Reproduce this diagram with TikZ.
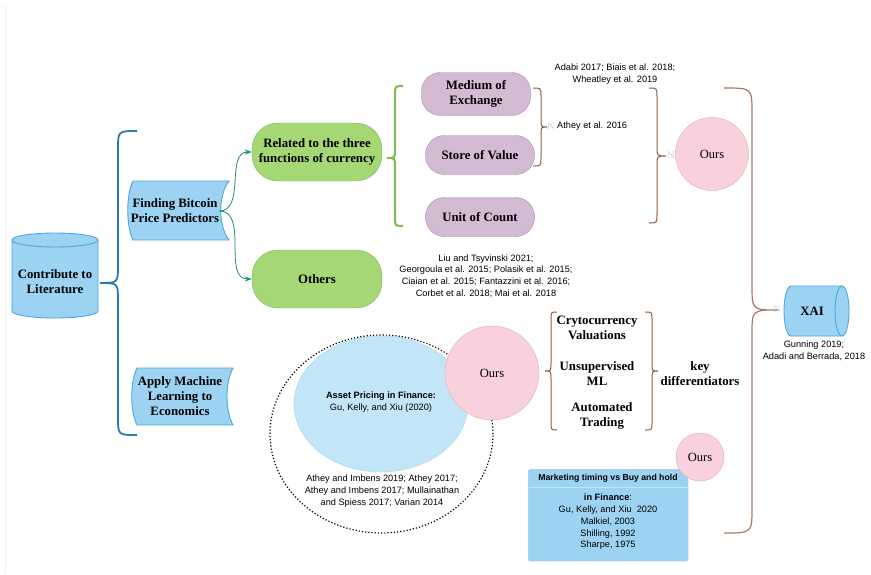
\documentclass[tikz,border=0pt]{standalone}
\usepackage{fontspec}
\setmainfont{Liberation Serif}
\setsansfont{Liberation Sans}
\usetikzlibrary{shapes.geometric,arrows.meta}
\definecolor{cylblue}{HTML}{9DD3F2}
\definecolor{cyledge}{HTML}{4DA6DD}
\definecolor{braceblue}{HTML}{2A7AB4}
\definecolor{grfill}{HTML}{A5D875}
\definecolor{gredge}{HTML}{82B366}
\definecolor{grbrace}{HTML}{82BE55}
\definecolor{pufill}{HTML}{D4BBD4}
\definecolor{puedge}{HTML}{A88AB0}
\definecolor{pkfill}{HTML}{F8D1DD}
\definecolor{pkedge}{HTML}{E5A8BC}
\definecolor{lbfill}{HTML}{C2E5F7}
\definecolor{lbedge}{HTML}{A5D5F2}
\definecolor{bracebrown}{HTML}{8E5B3E}
\definecolor{flowteal}{HTML}{1E8C7E}
% curly brace: style, x end, x mid, x tip, y top, y tip, y bottom, corner
\newcommand{\drawbrace}[8]{%
  \draw[#1] (#2,#5) .. controls (#3,#5) .. (#3,#5+#8) -- (#3,#6-#8)
    .. controls (#3,#6) .. (#4,#6) .. controls (#3,#6) .. (#3,#6+#8)
    -- (#3,#7-#8) .. controls (#3,#7) .. (#2,#7);}

\begin{document}
\begin{tikzpicture}[x=1pt, y=-1pt,
	lbl/.style={font=\bfseries\fontsize{12.8}{15}\selectfont, align=center, inner sep=0pt},
	refs/.style={font=\sffamily\fontsize{9.2}{11.7}\selectfont, align=center, inner sep=0pt},
	func/.style={draw=gredge, fill=grfill, rounded corners=26pt, minimum width=130pt, minimum height=58pt, lbl},
	money/.style={draw=puedge, fill=pufill, rounded corners=19pt, minimum width=109pt, lbl},
	ours/.style={circle, draw=pkedge, fill=pkfill, inner sep=0pt, font=\fontsize{12.5}{15}\selectfont},
	cyl/.style={draw=cyledge, fill=cylblue, line width=0.9pt},
	flow/.style={->, >={Stealth[length=7pt, width=5pt]}, flowteal, line width=0.8pt},
	faint/.style={text=gray!35, font=\fontsize{10}{10}\selectfont, inner sep=0pt}]
	\useasboundingbox (0,0) rectangle (871,574);
	\fill[white] (0,0) rectangle (871,574);
	\draw[gray!12, line width=1pt] (5,5) -- (5,574);
	
	% blue shapes
	\filldraw[cyl] (12,240) -- (12,311) arc[start angle=180, end angle=0, x radius=43, y radius=7] -- (98,240) -- cycle;
	\filldraw[cyl] (55,240) ellipse [x radius=43, y radius=7];
	\filldraw[cyl] (133,181) -- (229,181) .. controls (218,195) and (218,226) .. (229,240) -- (133,240) .. controls (126,226) and (126,195) .. (133,181) -- cycle;
	\filldraw[cyl] (137,368) -- (233,368) .. controls (225,382) and (225,411) .. (233,425) -- (137,425) .. controls (130,411) and (130,382) .. (137,368) -- cycle;
	\filldraw[cyl] (842,286) -- (791,286) arc[start angle=270, end angle=90, x radius=7, y radius=25] -- (842,336) -- cycle;
	\filldraw[cyl] (842,311) ellipse [x radius=7, y radius=25];
	
	\node[lbl] (lit) at (55,282) {Contribute to\\Literature};
	\node[lbl, minimum width=88pt] (find) at (175,211) {Finding Bitcoin\\Price Predictors};
	\node[lbl] (apply) at (180,396) {Apply Machine\\Learning to\\Economics};
	\node[lbl] (xai) at (812,311) {XAI};
	
	\node[func] (rel) at (317,152) {Related to the three\\functions of currency};
	\node[func] (others) at (317,279) {Others};
	\draw[flow] (find.east) to[out=0, in=180] (rel.west);
	\draw[flow] (find.east) to[out=0, in=180] (others.west);
	
	\node[money, minimum height=43pt] (medium) at (476,94) {Medium of\\Exchange};
	\node[money, minimum height=39pt] (store) at (480,155) {Store of Value};
	\node[money, minimum height=39pt] (unit) at (480,217) {Unit of Count};
	
	\node[ours, minimum size=73pt] (ours1) at (712,154) {Ours};
	
	% asset pricing part
	\node[ellipse, draw=lbedge, fill=lbfill, minimum width=174pt, minimum height=136pt] (asset) at (381,404) {};
	\node[refs] (assettxt) at (381,402) {\textbf{Asset Pricing in Finance:}\\Gu, Kelly, and Xiu (2020)};
	\node[ellipse, draw, dotted, line width=1.2pt, minimum width=223pt, minimum height=198pt] (econ) at (381.5,434) {};
	\node[ours, minimum size=94pt] (ours2) at (492,373) {Ours};
	
	\node[draw=gray!35, fill=cylblue, rounded corners=1.5pt, minimum width=160pt, minimum height=92pt, anchor=north west] (market) at (528,469) {};
	\draw[white!45!cylblue, line width=0.8pt] (529,487) -- (687,487);
	\node[refs, font=\sffamily\bfseries\fontsize{8.7}{10}\selectfont] (mhead) at (608,478) {Marketing timing vs Buy and hold};
	\node[refs] (mbody) at (608,522) {\textbf{in Finance}:\\Gu, Kelly, and Xiu\ \ 2020\\Malkiel, 2003\\Shilling, 1992\\Sharpe, 1975};
	\node[ours, minimum size=48pt] (ours3) at (700,457) {Ours};
	
	% references
	\node[refs] (adabi) at (615,74) {Adabi 2017; Biais et al. 2018;\\Wheatley et al. 2019};
	\node[refs, anchor=west] (athey16) at (557,126) {Athey et al. 2016};
	\node[refs] (liu) at (486,276) {Liu and Tsyvinski 2021;\\Georgoula et al. 2015; Polasik et al. 2015;\\Ciaian et al. 2015; Fantazzini et al. 2016;\\Corbet et al. 2018; Mai et al. 2018};
	\node[refs] (econref) at (382,491) {Athey and Imbens 2019; Athey 2017;\\Athey and Imbens 2017; Mullainathan\\and Spiess 2017; Varian 2014};
	\node[refs] (xairef) at (814,351) {Gunning 2019;\\Adadi and Berrada, 2018};
	
	\node[lbl] (valu) at (597,328) {Crytocurrency\\Valuations};
	\node[lbl] (unsup) at (597,374) {Unsupervised\\ML};
	\node[lbl] (auto) at (602,416) {Automated\\Trading};
	\node[lbl] (keyd) at (700,374) {key\\differentiators};
	
	\node[faint] (n1) at (551,126) {N};
	\node[faint] (n2) at (671,155) {N};
	\node[faint] (n3) at (777,309) {N};
	
	% braces
	\drawbrace{braceblue, line width=1.8pt}{137}{118}{100}{131}{283}{435}{18}
	\drawbrace{grbrace, line width=2.2pt}{403}{395}{387}{86}{158}{226}{9}
	\drawbrace{bracebrown, line width=1pt}{533}{541}{547}{88}{127}{166}{8}
	\drawbrace{bracebrown, line width=1pt}{649}{657}{666}{88}{156}{223}{9}
	\drawbrace{bracebrown!80!white, line width=1.2pt}{724}{752}{778}{88}{310}{533}{25}
	\drawbrace{bracebrown, line width=1pt}{557}{551}{545}{312}{371}{430}{8}
	\drawbrace{bracebrown, line width=1pt}{645}{652}{658}{312}{371}{430}{8}
\end{tikzpicture}
\end{document}
